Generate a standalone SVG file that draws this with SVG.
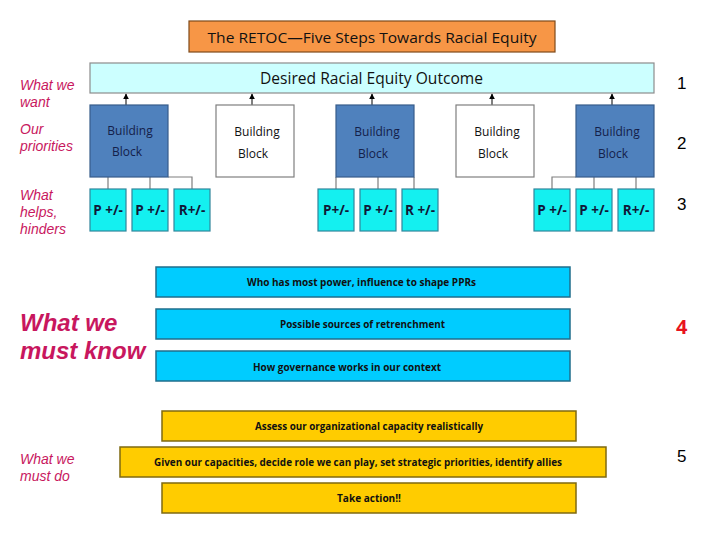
<svg xmlns="http://www.w3.org/2000/svg" width="720" height="540" viewBox="0 0 720 540">
<style>
.lbl{font-family:"Liberation Sans",Arial,sans-serif;font-style:italic;fill:#C8175E;font-size:14px}
.num{font-family:"Liberation Sans",Arial,sans-serif;font-size:17px;fill:#000}
.bb{stroke:#385D8A;stroke-width:1.2;fill:#4F81BD}
.bw{stroke:#7F7F7F;stroke-width:1.2;fill:#fff}
.bt{font-family:"Open Sans","Liberation Sans",sans-serif;font-size:12px;text-anchor:middle}
.pb{fill:#14F0F0;stroke:#31859C;stroke-width:1.2}
.pt{font-family:"Open Sans","Liberation Sans",sans-serif;font-weight:bold;font-size:13.5px;fill:#101838;text-anchor:middle}
.cb{fill:#00CCFF;stroke:#1F6E8C;stroke-width:1.5}
.yb{fill:#FFCC00;stroke:#7F6A10;stroke-width:1.5}
.bar{font-family:"Open Sans","Liberation Sans",sans-serif;font-weight:bold;font-size:10px;fill:#111;text-anchor:middle}
.con{stroke:#7F7F7F;stroke-width:1.2;fill:none}
.arr{stroke:#000;stroke-width:1;fill:none}
</style>
<defs>
<marker id="ah" viewBox="0 0 10 10" refX="9" refY="5" markerWidth="6" markerHeight="6" orient="auto">
<path d="M0,0 L10,5 L0,10 z" fill="#000"/>
</marker>
</defs>
<rect width="720" height="540" fill="#fff"/>

<g id="title">
<rect x="189" y="21" width="366" height="31" fill="#F79646" stroke="#7F4A1A" stroke-width="1.2"/>
<text x="372" y="43" font-family="'Open Sans','Liberation Sans',sans-serif" font-size="15" text-anchor="middle" textLength="329" lengthAdjust="spacingAndGlyphs" fill="#111">The RETOC—Five Steps Towards Racial Equity</text>
</g>

<g id="outcome">
<rect x="90" y="63" width="564" height="30" fill="#CCFFFF" stroke="#8C8C8C" stroke-width="1.2"/>
<text x="371.5" y="84" font-family="'Open Sans','Liberation Sans',sans-serif" font-size="15.5" text-anchor="middle" textLength="223" lengthAdjust="spacingAndGlyphs" fill="#111">Desired Racial Equity Outcome</text>
</g>

<g id="labels">
<text class="lbl" x="20" y="90">What we</text>
<text class="lbl" x="20" y="107">want</text>
<text class="lbl" x="20" y="134">Our</text>
<text class="lbl" x="20" y="151">priorities</text>
<text class="lbl" x="20" y="200">What</text>
<text class="lbl" x="20" y="217">helps,</text>
<text class="lbl" x="20" y="234">hinders</text>
<text x="20" y="331" font-family="'Liberation Sans',Arial,sans-serif" font-style="italic" font-weight="bold" font-size="24" fill="#C8175E">What we</text>
<text x="20" y="359" font-family="'Liberation Sans',Arial,sans-serif" font-style="italic" font-weight="bold" font-size="24" fill="#C8175E">must know</text>
<text class="lbl" x="20" y="464">What we</text>
<text class="lbl" x="20" y="481">must do</text>
</g>

<g id="numbers">
<text class="num" x="677" y="89">1</text>
<text class="num" x="677" y="149">2</text>
<text class="num" x="677" y="210">3</text>
<text x="676" y="334" font-family="'Open Sans','Liberation Sans',sans-serif" font-weight="bold" font-size="20" fill="#E8141E">4</text>
<text class="num" x="677" y="462">5</text>
</g>

<g id="connectors">
<line class="arr" x1="126" y1="105" x2="126" y2="94" marker-end="url(#ah)"/>
<line class="arr" x1="252" y1="105" x2="252" y2="94" marker-end="url(#ah)"/>
<line class="arr" x1="372" y1="105" x2="372" y2="94" marker-end="url(#ah)"/>
<line class="arr" x1="492" y1="105" x2="492" y2="94" marker-end="url(#ah)"/>
<line class="arr" x1="612" y1="105" x2="612" y2="94" marker-end="url(#ah)"/>
<path class="con" d="M108,177 V189 M150,177 V189 M168,177 H192 V189"/>
<path class="con" d="M336,177 V189 M378,177 V189 M414,177 V189"/>
<path class="con" d="M576,177 H552 V189 M594,177 V189 M636,177 V189"/>
</g>

<g id="block1">
<rect class="bb" x="90" y="105" width="78" height="72"/>
<text class="bt" x="130" y="135" fill="#14204A">Building</text>
<text class="bt" x="127" y="156" fill="#14204A">Block</text>
</g>
<g id="block2">
<rect class="bw" x="216" y="105" width="78" height="72"/>
<text class="bt" x="257" y="136" fill="#111">Building</text>
<text class="bt" x="253" y="158" fill="#111">Block</text>
</g>
<g id="block3">
<rect class="bb" x="336" y="105" width="78" height="72"/>
<text class="bt" x="377" y="136" fill="#14204A">Building</text>
<text class="bt" x="373" y="158" fill="#14204A">Block</text>
</g>
<g id="block4">
<rect class="bw" x="456" y="105" width="78" height="72"/>
<text class="bt" x="497" y="136" fill="#111">Building</text>
<text class="bt" x="493" y="158" fill="#111">Block</text>
</g>
<g id="block5">
<rect class="bb" x="576" y="105" width="78" height="72"/>
<text class="bt" x="617" y="136" fill="#14204A">Building</text>
<text class="bt" x="613" y="158" fill="#14204A">Block</text>
</g>

<g id="p1"><rect class="pb" x="90" y="189" width="36" height="42"/><text class="pt" x="108" y="215">P +/-</text></g>
<g id="p2"><rect class="pb" x="132" y="189" width="36" height="42"/><text class="pt" x="150" y="215">P +/-</text></g>
<g id="r1"><rect class="pb" x="174" y="189" width="36" height="42"/><text class="pt" x="192" y="215">R+/-</text></g>
<g id="p3"><rect class="pb" x="318" y="189" width="36" height="42"/><text class="pt" x="336" y="215">P+/-</text></g>
<g id="p4"><rect class="pb" x="360" y="189" width="36" height="42"/><text class="pt" x="378" y="215">P +/-</text></g>
<g id="r2"><rect class="pb" x="402" y="189" width="36" height="42"/><text class="pt" x="420" y="215">R +/-</text></g>
<g id="p5"><rect class="pb" x="534" y="189" width="36" height="42"/><text class="pt" x="552" y="215">P +/-</text></g>
<g id="p6"><rect class="pb" x="576" y="189" width="36" height="42"/><text class="pt" x="594" y="215">P +/-</text></g>
<g id="r3"><rect class="pb" x="618" y="189" width="36" height="42"/><text class="pt" x="636" y="215">R+/-</text></g>

<g id="know1"><rect class="cb" x="156" y="267" width="414" height="30"/><text class="bar" x="361.5" y="286" textLength="229" lengthAdjust="spacingAndGlyphs">Who has most power, influence to shape PPRs</text></g>
<g id="know2"><rect class="cb" x="156" y="309" width="414" height="30"/><text class="bar" x="362.5" y="328" textLength="165" lengthAdjust="spacingAndGlyphs">Possible sources of retrenchment</text></g>
<g id="know3"><rect class="cb" x="156" y="351" width="414" height="30"/><text class="bar" x="347" y="371" textLength="188" lengthAdjust="spacingAndGlyphs">How governance works in our context</text></g>

<g id="do1"><rect class="yb" x="162" y="411" width="414" height="30"/><text class="bar" x="369" y="430" textLength="228" lengthAdjust="spacingAndGlyphs">Assess our organizational capacity realistically</text></g>
<g id="do2"><rect class="yb" x="120" y="447" width="486" height="30"/><text class="bar" x="358" y="466" textLength="408" lengthAdjust="spacingAndGlyphs">Given our capacities, decide role we can play, set strategic priorities, identify allies</text></g>
<g id="do3"><rect class="yb" x="162" y="483" width="414" height="30"/><text class="bar" x="369" y="502" textLength="64" lengthAdjust="spacingAndGlyphs">Take action!!</text></g>
</svg>
